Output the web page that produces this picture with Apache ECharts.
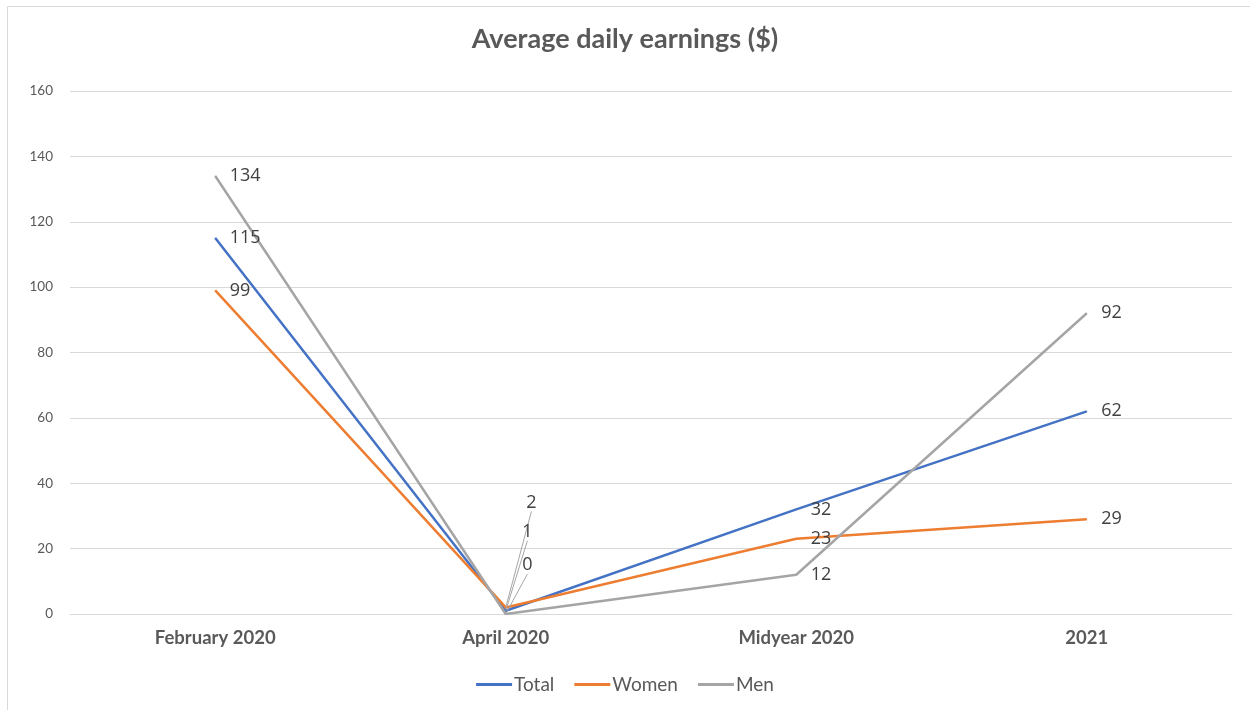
<!DOCTYPE html>
<html>
<head>
<meta charset="utf-8">
<script src="https://cdn.jsdelivr.net/npm/echarts@6/dist/echarts.min.js"></script>
<style>
  html, body { margin: 0; padding: 0; background: #fff; }
  #chart { width: 1250px; height: 710px; }
</style>
</head>
<body>
<div id="chart"></div>
<script>
const categories = ["February 2020", "April 2020", "Midyear 2020", "2021"];
const totalData = [115, 1, 32, 62];
const womenData = [99, 2, 23, 29];
const menData = [134, 0, 12, 92];
const yTicks = [0, 20, 40, 60, 80, 100, 120, 140, 160];

// April labels are pushed up with leader lines, like the original
const aprilShift = { Total: [2, -79], Women: [6, -105], Men: [2, -49] };

function buildData(values) {
  return values.map((v, i) =>
    i === 1 ? { value: v, labelLine: { show: true } } : v
  );
}

function makeSeries(name, values, color) {
  return {
    name: name,
    type: "line",
    data: buildData(values),
    symbol: "circle",
    symbolSize: 1,
    itemStyle: { color: color },
    lineStyle: { color: color, width: 2.5 },
    label: {
      show: true,
      position: "right",
      distance: 14,
      color: "#404040",
      fontSize: 18,
      fontFamily: "Open Sans",
    },
    labelLine: {
      show: false,
      lineStyle: { color: "#a6a6a6", width: 1 },
    },
    labelLayout: (p) => {
      if (p.dataIndex === 1) {
        const s = aprilShift[name];
        return { dx: s[0], dy: s[1] };
      }
    },
    emphasis: { disabled: true },
  };
}

const chart = echarts.init(document.getElementById("chart"));
chart.setOption({
  backgroundColor: "#fff",
  animation: false,
  textStyle: { fontFamily: "Lato" },
  title: {
    text: "Average daily earnings ($)",
    left: "center",
    top: 21,
    textStyle: {
      color: "#595959",
      fontSize: 27,
      fontWeight: "bold",
      fontFamily: "Lato",
    },
  },
  graphic: [
    {
      type: "rect",
      shape: { x: 7.5, y: 6.5, width: 1260, height: 720 },
      style: { fill: "none", stroke: "#d9d9d9", lineWidth: 1 },
      silent: true,
    },
  ],
  legend: {
    bottom: 11,
    left: "center",
    icon: "rect",
    itemWidth: 36,
    itemHeight: 3,
    itemGap: 20,
    textStyle: { color: "#595959", fontSize: 19, fontFamily: "Lato", padding: [0, 0, 0, -3] },
    data: ["Total", "Women", "Men"],
  },
  grid: {
    left: 70,
    right: 18,
    top: 91,
    bottom: 96,
    outerBoundsMode: "none",
  },
  xAxis: {
    type: "category",
    data: categories,
    boundaryGap: true,
    axisLine: { show: true, lineStyle: { color: "#d9d9d9" } },
    axisTick: { show: false },
    axisLabel: {
      color: "#595959",
      fontSize: 18.5,
      fontWeight: "bold",
      margin: 15,
      fontFamily: "Lato",
    },
  },
  yAxis: {
    type: "value",
    min: yTicks[0],
    max: yTicks[yTicks.length - 1],
    interval: 20,
    axisLine: { show: false },
    axisTick: { show: false },
    splitLine: { lineStyle: { color: "#d9d9d9", width: 1 } },
    axisLabel: {
      color: "#595959",
      fontSize: 13.5,
      margin: 17,
      fontFamily: "Lato",
    },
  },
  series: [
    makeSeries("Total", totalData, "#4472C4"),
    makeSeries("Women", womenData, "#ED7D31"),
    makeSeries("Men", menData, "#A5A5A5"),
  ],
});
</script>
</body>
</html>
